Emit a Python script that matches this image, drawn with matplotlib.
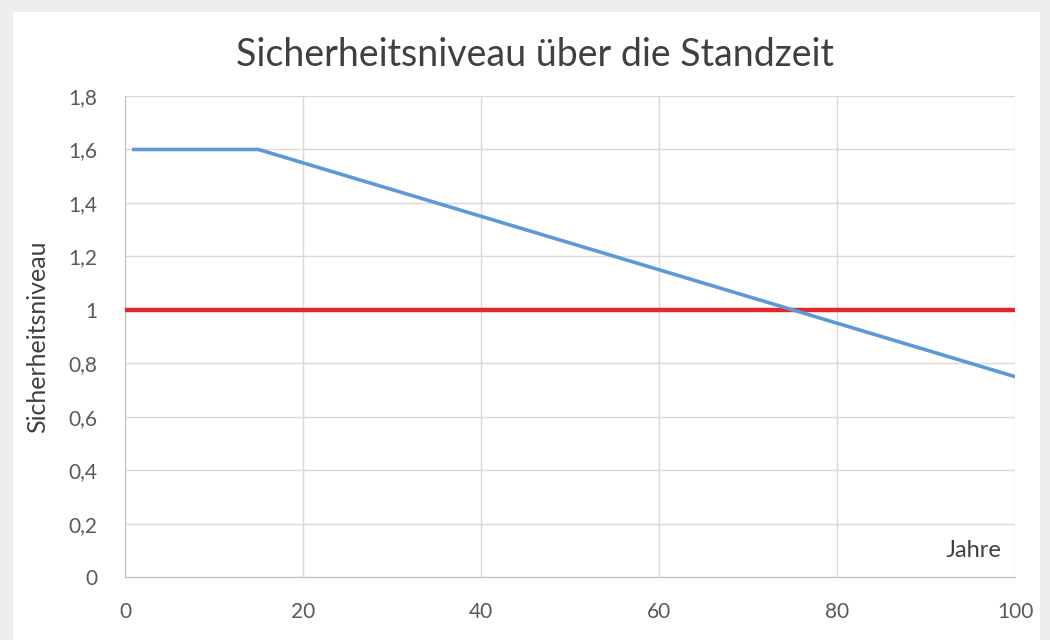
import matplotlib.pyplot as plt
from matplotlib.patches import Rectangle
from matplotlib.ticker import FuncFormatter

plt.rcParams['font.family'] = ['Lato', 'DejaVu Sans']

# data
years = [1, 15, 20, 40, 60, 80, 100]
niveau = [1.6, 1.6, 1.55, 1.35, 1.15, 0.95, 0.75]
grenze_x = [0, 100]
grenze_y = [1.0, 1.0]
xticks = [0, 20, 40, 60, 80, 100]
yticks = [0, 0.2, 0.4, 0.6, 0.8, 1.0, 1.2, 1.4, 1.6, 1.8]

txt = '#595959'
fig = plt.figure(figsize=(10.5, 6.4), dpi=100, facecolor='#eeeeee')
fig.patches.append(Rectangle((0.012, 0), 0.978, 0.982, transform=fig.transFigure,
                             facecolor='white', edgecolor='none', zorder=-5))
ax = fig.add_axes([0.119, 0.098, 0.848, 0.752])
ax.set_facecolor('white')

ax.plot(grenze_x, grenze_y, color='#e3262b', lw=3.2, zorder=3)
ax.plot(years, niveau, color='#5b9bd5', lw=2.6, zorder=4)

ax.set_xlim(0, 100)
ax.set_ylim(0, 1.8)
ax.set_xticks(xticks)
ax.set_yticks(yticks)
ax.yaxis.set_major_formatter(FuncFormatter(lambda v, p: ('%g' % round(v, 1)).replace('.', ',')))
ax.grid(True, color='#d9d9d9', lw=1)
ax.set_axisbelow(True)
for s in ['top', 'right']:
    ax.spines[s].set_visible(False)
for s in ['left', 'bottom']:
    ax.spines[s].set_color('#bfbfbf')
ax.tick_params(length=0, labelsize=15, colors=txt)
ax.tick_params(axis='x', pad=18)
ax.tick_params(axis='y', pad=20)

fig.text(0.509, 0.914, 'Sicherheitsniveau über die Standzeit', ha='center', va='center',
         fontsize=27, color='#404040')
ax.set_ylabel('Sicherheitsniveau', fontsize=18, color='#404040', labelpad=14)
ax.text(0.985, 0.055, 'Jahre', transform=ax.transAxes, ha='right', va='center',
        fontsize=17, color='#404040')

fig.savefig('out.png', dpi=100, facecolor=fig.get_facecolor())
